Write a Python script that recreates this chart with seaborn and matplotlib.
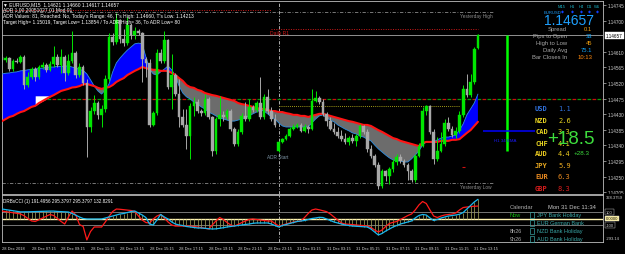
import matplotlib
matplotlib.use("Agg")
import matplotlib.pyplot as plt
from matplotlib.patches import Rectangle
import numpy as np
import pandas as pd
import seaborn as sns

# ---------------- data (EURUSD M15) ----------------
open_ = [1.14595,1.14586,1.14592,1.14560,1.14583,1.14581,1.14595,1.14514,1.14537,1.14560,
         1.14537,1.14566,1.14572,1.14558,1.14575,1.14595,1.14572,1.14595,1.14549,1.14583,
         1.14607,1.14543,1.14566,1.14520,1.14393,1.14439,1.14462,1.14428,1.14445,1.14532,
         1.14653,1.14638,1.14702,1.14647,1.14635,1.14687,1.14658,1.14670,1.14664,1.14589,
         1.14578,1.14399,1.14433,1.14607,1.14583,1.14644,1.14508,1.14543,1.14488,1.14422,
         1.14399,1.14367,1.14454,1.14465,1.14439,1.14433,1.14474,1.14422,1.14324,1.14416,
         1.14428,1.14422,1.14439,1.14387,1.14344,1.14379,1.14425,1.14416,1.14451,1.14442,
         1.14462,1.14422,1.14480,1.14439,1.14416,1.14324,1.14350,1.14358,1.14367,1.14387,
         1.14393,1.14399,1.14382,1.14393,1.14387,1.14468,1.14477,1.14465,1.14431,1.14410,
         1.14387,1.14379,1.14367,1.14358,1.14350,1.14361,1.14353,1.14367,1.14396,1.14379,
         1.14330,1.14309,1.14283,1.14223,1.14266,1.14252,1.14272,1.14292,1.14307,1.14295,
         1.14283,1.14266,1.14240,1.14309,1.14338,1.14439,1.14454,1.14379,1.14301,1.14324,
         1.14344,1.14405,1.14387,1.14370,1.14382,1.14428,1.14503,1.14485,1.14523,1.14621]
high = [1.14604,1.14598,1.14595,1.14589,1.14592,1.14601,1.14601,1.14552,1.14566,1.14566,
        1.14572,1.14581,1.14578,1.14583,1.14627,1.14604,1.14618,1.14601,1.14604,1.14670,
        1.14612,1.14578,1.14572,1.14532,1.14451,1.14485,1.14468,1.14457,1.14543,1.14664,
        1.14664,1.14722,1.14705,1.14676,1.14710,1.14693,1.14682,1.14676,1.14667,1.14595,
        1.14589,1.14439,1.14618,1.14618,1.14670,1.14647,1.14604,1.14549,1.14532,1.14445,
        1.14445,1.14462,1.14480,1.14474,1.14445,1.14488,1.14480,1.14425,1.14422,1.14483,
        1.14439,1.14445,1.14445,1.14393,1.14387,1.14433,1.14465,1.14474,1.14457,1.14468,
        1.14537,1.14488,1.14503,1.14451,1.14431,1.14353,1.14361,1.14373,1.14393,1.14402,
        1.14405,1.14405,1.14402,1.14399,1.14503,1.14497,1.14483,1.14474,1.14436,1.14422,
        1.14405,1.14393,1.14384,1.14376,1.14367,1.14373,1.14373,1.14402,1.14399,1.14387,
        1.14341,1.14315,1.14292,1.14272,1.14269,1.14278,1.14301,1.14315,1.14315,1.14301,
        1.14289,1.14272,1.14315,1.14347,1.14451,1.14457,1.14457,1.14387,1.14364,1.14379,
        1.14416,1.14422,1.14396,1.14393,1.14439,1.14514,1.14546,1.14546,1.14624,1.14660]
low = [1.14581,1.14581,1.14555,1.14555,1.14578,1.14578,1.14503,1.14508,1.14532,1.14526,
       1.14532,1.14560,1.14552,1.14555,1.14566,1.14566,1.14549,1.14526,1.14543,1.14578,
       1.14534,1.14537,1.14514,1.14307,1.14379,1.14431,1.14416,1.14393,1.14436,1.14526,
       1.14630,1.14633,1.14635,1.14627,1.14630,1.14647,1.14647,1.14658,1.14523,1.14537,
       1.14393,1.14396,1.14428,1.14578,1.14578,1.14503,1.14445,1.14483,1.14393,1.14393,
       1.14330,1.14301,1.14425,1.14433,1.14425,1.14428,1.14416,1.14309,1.14315,1.14396,
       1.14410,1.14416,1.14382,1.14338,1.14338,1.14373,1.14410,1.14410,1.14436,1.14436,
       1.14416,1.14416,1.14431,1.14410,1.14393,1.14321,1.14347,1.14356,1.14364,1.14384,
       1.14390,1.14379,1.14379,1.14376,1.14384,1.14465,1.14459,1.14425,1.14396,1.14384,
       1.14373,1.14361,1.14353,1.14344,1.14341,1.14347,1.14338,1.14361,1.14373,1.14321,
       1.14304,1.14278,1.14213,1.14217,1.14237,1.14229,1.14263,1.14283,1.14289,1.14278,
       1.14240,1.14234,1.14234,1.14307,1.14335,1.14428,1.14373,1.14286,1.14295,1.14321,
       1.14338,1.14382,1.14364,1.14361,1.14376,1.14422,1.14480,1.14480,1.14517,1.14617]
close = [1.14586,1.14592,1.14560,1.14583,1.14581,1.14595,1.14514,1.14537,1.14560,1.14537,
         1.14566,1.14572,1.14558,1.14575,1.14595,1.14572,1.14595,1.14549,1.14583,1.14607,
         1.14543,1.14566,1.14520,1.14393,1.14439,1.14462,1.14428,1.14445,1.14532,1.14653,
         1.14638,1.14702,1.14647,1.14635,1.14687,1.14658,1.14670,1.14664,1.14589,1.14578,
         1.14399,1.14433,1.14607,1.14583,1.14644,1.14508,1.14543,1.14488,1.14422,1.14399,
         1.14367,1.14454,1.14465,1.14439,1.14433,1.14474,1.14422,1.14324,1.14416,1.14428,
         1.14422,1.14439,1.14387,1.14344,1.14379,1.14425,1.14416,1.14451,1.14442,1.14462,
         1.14422,1.14480,1.14439,1.14416,1.14399,1.14350,1.14358,1.14367,1.14387,1.14393,
         1.14399,1.14382,1.14393,1.14387,1.14468,1.14477,1.14465,1.14431,1.14410,1.14387,
         1.14379,1.14367,1.14358,1.14350,1.14361,1.14353,1.14367,1.14396,1.14379,1.14330,
         1.14309,1.14283,1.14223,1.14266,1.14252,1.14272,1.14292,1.14307,1.14295,1.14283,
         1.14266,1.14240,1.14309,1.14338,1.14439,1.14454,1.14379,1.14301,1.14324,1.14344,
         1.14405,1.14387,1.14370,1.14382,1.14428,1.14503,1.14485,1.14523,1.14618,1.14657]
ma_slow = [1.14410,1.14416,1.14422,1.14425,1.14431,1.14436,1.14439,1.14445,1.14451,1.14454,
           1.14462,1.14468,1.14474,1.14480,1.14485,1.14491,1.14497,1.14500,1.14503,1.14507,
           1.14508,1.14511,1.14516,1.14517,1.14514,1.14511,1.14506,1.14503,1.14506,1.14508,
           1.14514,1.14523,1.14529,1.14534,1.14543,1.14549,1.14555,1.14560,1.14566,1.14563,
           1.14560,1.14558,1.14558,1.14555,1.14555,1.14555,1.14549,1.14543,1.14534,1.14526,
           1.14514,1.14508,1.14506,1.14500,1.14497,1.14491,1.14488,1.14485,1.14483,1.14480,
           1.14477,1.14474,1.14471,1.14468,1.14462,1.14459,1.14457,1.14454,1.14451,1.14448,
           1.14445,1.14445,1.14442,1.14439,1.14439,1.14436,1.14436,1.14433,1.14431,1.14428,
           1.14428,1.14425,1.14425,1.14422,1.14425,1.14428,1.14431,1.14431,1.14428,1.14425,
           1.14422,1.14419,1.14416,1.14413,1.14410,1.14408,1.14405,1.14402,1.14399,1.14399,
           1.14396,1.14390,1.14384,1.14379,1.14373,1.14367,1.14361,1.14358,1.14353,1.14350,
           1.14347,1.14344,1.14341,1.14338,1.14347,1.14350,1.14350,1.14350,1.14350,1.14353,
           1.14353,1.14353,1.14356,1.14356,1.14358,1.14367,1.14376,1.14384,1.14396,1.14408]
ma_fast = [1.14546,1.14548,1.14549,1.14551,1.14552,1.14555,1.14556,1.14558,1.14559,1.14560,
           1.14562,1.14563,1.14565,1.14566,1.14566,1.14568,1.14568,1.14569,1.14569,1.14566,
           1.14563,1.14559,1.14556,1.14546,1.14529,1.14511,1.14497,1.14488,1.14500,1.14517,
           1.14552,1.14578,1.14592,1.14604,1.14615,1.14624,1.14633,1.14635,1.14633,1.14595,
           1.14560,1.14546,1.14543,1.14552,1.14560,1.14569,1.14558,1.14540,1.14511,1.14491,
           1.14480,1.14474,1.14465,1.14459,1.14451,1.14445,1.14436,1.14431,1.14425,1.14419,
           1.14416,1.14413,1.14410,1.14410,1.14413,1.14416,1.14419,1.14425,1.14431,1.14436,
           1.14442,1.14439,1.14431,1.14422,1.14416,1.14405,1.14396,1.14393,1.14393,1.14393,
           1.14393,1.14393,1.14393,1.14393,1.14405,1.14416,1.14425,1.14428,1.14419,1.14413,
           1.14408,1.14399,1.14393,1.14387,1.14382,1.14376,1.14373,1.14367,1.14364,1.14358,
           1.14353,1.14341,1.14330,1.14321,1.14312,1.14304,1.14298,1.14295,1.14295,1.14292,
           1.14292,1.14301,1.14312,1.14324,1.14341,1.14350,1.14350,1.14350,1.14356,1.14361,
           1.14364,1.14364,1.14367,1.14370,1.14384,1.14402,1.14428,1.14445,1.14462,1.14488]
cci_main = [115,106,97,88,80,71,42,0,-38,-46,
            -20,8,35,62,46,0,-45,-85,23,115,
            54,-92,-123,-330,-200,-131,-131,-131,-54,31,
            108,146,142,136,131,123,108,38,-23,-62,
            -69,-8,38,62,8,-54,-100,-116,-116,-116,
            -116,-116,-123,-131,-139,-151,-162,-100,-38,15,
            -15,-62,-100,-116,-92,-62,-38,-15,-8,-15,
            -23,-31,-38,-38,-77,-116,-100,-85,-69,-54,
            -46,-38,15,77,131,146,134,119,105,69,
            23,-23,-69,-85,-89,-94,-100,-105,-109,-116,
            -139,-177,-208,-177,-123,-77,-59,-46,-15,15,
            46,69,131,208,262,231,131,38,15,38,
            54,62,69,85,131,169,177,185,188,191.5]
cci_signal = [146,137,128,120,111,102,102,103,105,108,
              109,111,112,114,114,109,106,103,100,77,
              51,23,0,-8,-8,-8,-8,-8,8,23,
              38,54,69,77,92,108,115,85,54,15,
              -85,-100,-23,62,23,-8,-54,-85,-100,-108,
              -123,-131,-139,-146,-146,-151,-156,-162,-159,-151,
              -142,-131,-123,-116,-108,-100,-92,-85,-74,-69,
              -69,-69,-69,-85,-108,-131,-108,-92,-77,-62,
              -46,-38,-31,-15,0,8,18,15,-8,-31,
              -54,-69,-85,-100,-108,-116,-120,-123,-128,-131,
              -162,-208,-254,-231,-193,-162,-131,-108,-85,-69,
              -54,-38,8,46,62,54,8,-31,-15,8,
              23,38,46,54,65,92,146,200,254,295.4]

time_tick_bars = [0, 8, 16, 24, 32, 40, 48, 56, 64, 72, 80, 88, 96, 104, 112, 120, 128]
time_tick_labels = ["28 Dec 2018", "28 Dec 07:15", "28 Dec 09:15", "28 Dec 11:15",
                    "28 Dec 13:15", "28 Dec 15:15", "28 Dec 17:15", "28 Dec 19:15",
                    "28 Dec 21:15", "28 Dec 23:15", "31 Dec 01:15", "31 Dec 03:15",
                    "31 Dec 05:15", "31 Dec 07:15", "31 Dec 09:15", "31 Dec 11:15",
                    "31 Dec 13:15"]
price_ticks = [1.14205, 1.14250, 1.14295, 1.14340, 1.14385, 1.14430, 1.14475,
               1.14520, 1.14565, 1.14610, 1.14700, 1.14745]

bid = 1.14657
day_open = 1.14324
yesterday_high = 1.14725
yesterday_low = 1.14232
prev_r1 = 1.14731
daily_r1 = 1.14676
pivot_level = 1.14474
pp_level = 1.14454
h1_ema = 1.14382
white_band_top = 1.14483
day_start_bar = 75

currencies = ["USD", "NZD", "CAD", "CHF", "AUD", "JPY", "EUR", "GBP"]
strength = [1.1, 2.6, 3.3, 4.1, 4.4, 5.9, 6.3, 8.3]
cur_colors = ["#3070d8", "#e8d420", "#e8d420", "#e8d420", "#e8c820", "#e8a820", "#e88a20", "#d81c1c"]

info_labels = ["Spread", "Pips to Open", "High to Low", "Daily Avg", "Bar Closes In"]
info_values = ["0.1", "33", "45", "75.1", "10:13"]
info_colors = ["#f0a010", "#12a8ff", "#f0a010", "#12a8ff", "#ff8a10"]
timeframes = ["M15", "H1", "H4", "D1", "W1"]

cal_when = ["Now", "", "8h26", "9h26"]
cal_events = ["JPY Bank Holiday", "EUR German Bank", "NZD Bank Holiday", "AUD Bank Holiday"]

header_lines = ["\u25bc EURUSD,M15  1.14621 1.14660 1.14617 1.14657",
                "ADR 1.00 20051027 01 Mod 01",
                "ADR Values: 81, Reached: No, Today's Range: 46, T's High: 1.14660, T's Low: 1.14213",
                "Target High= 1.15019, Target Low= 1.13854 / To ADR High= 36, To ADR Low= 80"]
cci_header = "DRBsCCI (1) 191.4956 295.3797 295.3797 132.8291"

# ---------------- figure ----------------
sns.set_theme(style="dark")
plt.rcParams['font.family'] = ['Liberation Sans', 'DejaVu Sans']

W, H = 625, 255
fig = plt.figure(figsize=(6.25, 2.55), dpi=100, facecolor="black")


def fx(x):
    return x / W


def fy(y):
    return 1 - y / H


ax = fig.add_axes([fx(2), fy(195), (603 - 2) / W, (195 - 2) / H])
ax2 = fig.add_axes([fx(2), fy(243), (603 - 2) / W, (243 - 196) / H])
for a in (ax, ax2):
    a.set_facecolor("black")
    a.grid(False)
    for s in a.spines.values():
        s.set_color("#bdbdbd")
        s.set_linewidth(0.6)

n = len(close)
df = pd.DataFrame({"bar": np.arange(n), "open": open_, "high": high, "low": low,
                   "close": close, "slow": ma_slow, "fast": ma_fast,
                   "cci": cci_main, "sig": cci_signal})
bars = df["bar"].values

# ---- main panel ----
ax.set_xlim(0, 162.9)
ax.set_ylim(1.141997, 1.147565)

fast = df["fast"].values
slow = df["slow"].values
ax.fill_between(bars, fast, slow, where=fast >= slow, interpolate=True,
                color="#0000ff", lw=0, zorder=2)
ax.fill_between(bars, fast, slow, where=fast < slow, interpolate=True,
                color="#6c6c6c", lw=0, zorder=2)
wb = (bars >= 9) & (bars <= 13)
ax.fill_between(bars[wb], slow[wb], white_band_top, color="white", lw=0, zorder=2.2)

sns.lineplot(data=df, x="bar", y="fast", ax=ax, color="#2f8fe0", linewidth=0.6,
             zorder=3, legend=False)
sns.lineplot(data=df, x="bar", y="slow", ax=ax, color="#ff1414", linewidth=1.5,
             zorder=3.2, legend=False)

bull = df["close"].values >= df["open"].values
ccol = np.where(bull, "#00e600", "#a8a8a8")
ax.vlines(bars, df["low"], df["high"], colors=ccol, lw=0.7, zorder=4)
ax.bar(bars, df["close"] - df["open"], bottom=df["open"], width=0.72, color=ccol,
       edgecolor=ccol, linewidth=0.3, zorder=5)

# horizontal levels
ax.hlines(yesterday_high, 0, 133, color="#8a8a8a", lw=0.6, linestyle=(0, (4, 2, 1, 2)), zorder=1.5)
ax.hlines(yesterday_low, 0, 133, color="#8a8a8a", lw=0.6, linestyle=(0, (4, 2, 1, 2)), zorder=1.5)
ax.hlines(prev_r1, 0, 73, color="#d01818", lw=0.7, linestyle=(0, (1, 1.5)), zorder=1.5)
ax.hlines(daily_r1, 73, 129, color="#d01818", lw=0.7, linestyle=(0, (1, 1.5)), zorder=1.5)
ax.hlines(pp_level, 75, 124, color="#d8d020", lw=0.6, linestyle=(0, (1, 1.5)), zorder=1.5)
ax.axhline(bid, color="#a8a8a8", lw=0.6, zorder=1.5)
ax.axhline(pivot_level, color="#c81010", lw=0.9, linestyle=(0, (3, 5)), zorder=1.6)
ax.axhline(pivot_level, color="#0a9a0a", lw=0.9, linestyle=(4, (3, 5)), zorder=1.6)
ax.axvline(day_start_bar, color="#c8c8c8", lw=0.6, linestyle=(0, (4, 2, 1, 2)), zorder=1.4)
ax2.axvline(day_start_bar, color="#c8c8c8", lw=0.6, linestyle=(0, (4, 2, 1, 2)), zorder=1.4)

# daily range bar and H1 EMA marker
ax.vlines(137, day_open, bid, color="#00ff00", lw=1.8, zorder=6)
ax.hlines(h1_ema, 130.4, 144.4, color="#0000ff", lw=1.1, zorder=6)
ax.hlines(1.14278, 124.6, 125.6, color="#d01010", lw=0.8, zorder=6)

ax.text(72.6, 1.14667, "Daily R1", color="#d01818", fontsize=3.6, va="center", ha="left", zorder=7)
ax.text(124.1, 1.14716, "Yesterday High", color="#8c8c8c", fontsize=3.4, va="center", ha="left", zorder=7)
ax.text(124.1, 1.14220, "Yesterday Low", color="#8c8c8c", fontsize=3.4, va="center", ha="left", zorder=7)
ax.text(74.8, 1.14307, "ADR Start", color="#7f97a8", fontsize=3.4, va="center", ha="center", zorder=7)
ax.text(136.3, 1.14355, "H1 34 EMA", color="#1a1aff", fontsize=3.2, va="center", ha="center", zorder=7)

# right price axis
ax.set_xticks([])
ax.yaxis.tick_right()
ax.set_yticks(price_ticks)
ax.set_yticklabels(["%.5f" % p for p in price_ticks])
ax.tick_params(axis="y", colors="#bdbdbd", labelcolor="#d0d0d0", labelsize=3.3,
               length=2, width=0.5, pad=1.2)
ax.set_xlabel("")
ax.set_ylabel("")
ax.annotate("%.5f" % bid, xy=(1, bid), xycoords=("axes fraction", "data"),
            xytext=(2.2, 0), textcoords="offset points", fontsize=3.3, color="black",
            va="center", ha="left",
            bbox=dict(boxstyle="square,pad=0.25", fc="white", ec="white", lw=0.3),
            annotation_clip=False, zorder=8)

# ---- CCI panel ----
ax2.set_xlim(0, 162.9)
ax2.set_ylim(-362, 362)
ax2.vlines(bars, 0, df["sig"], color="#9c9c58", lw=0.55, zorder=2)
ax2.axhline(100, color="#8a8a8a", lw=0.6, zorder=1.5)
ax2.axhline(-100, color="#8a8a8a", lw=0.6, zorder=1.5)
ax2.axhline(0, color="#fff3b0", lw=1.0, zorder=1.6)
sns.lineplot(data=df, x="bar", y="cci", ax=ax2, color="#ff1a1a", linewidth=0.9,
             zorder=3, legend=False)
sns.lineplot(data=df, x="bar", y="sig", ax=ax2, color="#18b8f0", linewidth=0.9,
             zorder=3.2, legend=False)
ax2.set_yticks([])
ax2.set_xticks(time_tick_bars)
ax2.set_xticklabels(time_tick_labels, ha="left")
ax2.tick_params(axis="x", colors="#bdbdbd", labelcolor="#d0d0d0", labelsize=2.9,
                length=2, width=0.5, pad=1.2)
ax2.set_xlabel("")
ax2.set_ylabel("")

for val, txt, fc, tc in [(328.38, "328.3759", "black", "#d0d0d0"),
                         (100, "100", "black", "#d0d0d0"),
                         (0, "0.0000", "#fff3a0", "black"),
                         (-100, "-100", "black", "#d0d0d0"),
                         (-293.14, "-293.14", "black", "#d0d0d0")]:
    boxed = txt in ("100", "-100", "0.0000")
    ax2.annotate(txt, xy=(1, val), xycoords=("axes fraction", "data"),
                 xytext=(2.2, 0), textcoords="offset points", fontsize=3.0, color=tc,
                 va="center", ha="left", annotation_clip=False, zorder=8,
                 bbox=dict(boxstyle="square,pad=0.2", fc=fc,
                           ec="#d0d0d0" if boxed else "black", lw=0.3))

# ---------------- texts ----------------
for i, line in enumerate(header_lines):
    fig.text(fx(3), fy(5 + i * 5.7), line, color="white", fontsize=3.5, va="center", ha="left",
             zorder=10)
fig.text(fx(3), fy(202), cci_header, color="white", fontsize=3.3, va="center", ha="left", zorder=10)

# info panel top right
tf_x = [562, 572, 581.5, 589.5, 597.5]
for x, tf in zip(tf_x, timeframes):
    fig.text(fx(x), fy(7), tf, color="#19b5c8", fontsize=3.0, ha="center", va="center", zorder=10)
    fig.text(fx(x), fy(13), "\u25c6", color="#1040ff", fontsize=2.8, ha="center", va="center",
             zorder=10, family=["DejaVu Sans"])
fig.text(fx(544), fy(12.5), "EURUSD", color="#1ea0ff", fontsize=3.0, ha="left", va="center", zorder=10)
fig.text(fx(544), fy(21), "%.5f" % bid, color="#1ea0ff", fontsize=10, ha="left", va="center", zorder=10)
info_y = [29.5, 36.5, 43.5, 51, 58]
for y, lab, val, c in zip(info_y, info_labels, info_values, info_colors):
    fig.text(fx(567), fy(y), lab, color="#a8a8a8", fontsize=4.2, ha="right", va="center", zorder=10)
    fig.text(fx(592), fy(y), val, color=c, fontsize=4.2, ha="right", va="center", zorder=10)

# currency strength
cur_y = [109, 120.7, 132, 143.5, 154.5, 166, 177.5, 189]
for y, cname, sv, c in zip(cur_y, currencies, strength, cur_colors):
    fig.text(fx(535), fy(y), cname, color=c, fontsize=5.0, ha="left", va="center",
             family=["DejaVu Sans Mono"], weight="bold", zorder=10)
    fig.text(fx(558), fy(y), "%.1f" % sv, color=c, fontsize=5.0, ha="left", va="center",
             family=["DejaVu Sans Mono"], zorder=10)
fig.text(fx(547), fy(140), "+18.5", color="#3ddc3d", fontsize=13.5, ha="left", va="center", zorder=11)
fig.text(fx(574), fy(153.5), "+28.3", color="#3ddc3d", fontsize=4.5, ha="left", va="center", zorder=11)

# calendar
fig.text(fx(510), fy(207.5), "Calendar", color="#a8a8a8", fontsize=4.2, ha="left", va="center", zorder=10)
fig.text(fx(596), fy(207.5), "Mon 31 Dec 11:34", color="#c8c8c8", fontsize=4.2, ha="right", va="center", zorder=10)
cal_y = [216, 224, 232, 240]
for y, w, ev in zip(cal_y, cal_when, cal_events):
    if w:
        fig.text(fx(510), fy(y), w, color="#10c010" if w == "Now" else "#a8a8a8", fontsize=4.0,
                 ha="left", va="center", zorder=10)
    fig.add_artist(Rectangle((fx(529.5), fy(y + 3)), 4 / W, 6 / H, transform=fig.transFigure,
                             fill=False, ec="#3aa0a0", lw=0.5, zorder=10))
    fig.text(fx(537), fy(y), ev, color="#3aa8a8", fontsize=4.0, ha="left", va="center", zorder=10)

fig.savefig("out.png", dpi=100, facecolor="black")
